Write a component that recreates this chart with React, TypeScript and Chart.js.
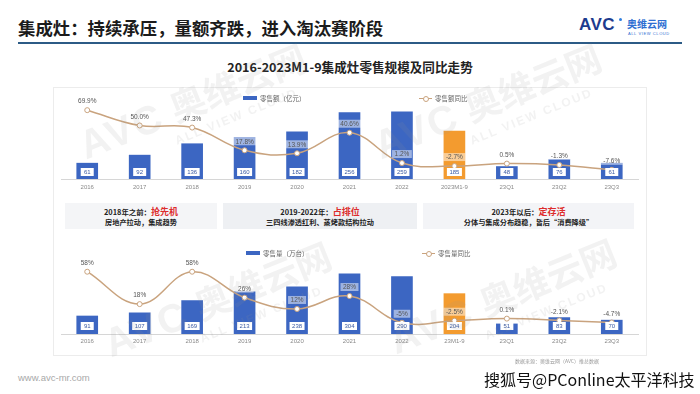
import React, { useEffect, useRef } from "react";
import { Chart, registerables } from "chart.js";

Chart.register(...registerables);

// ---------- DATA ----------
const categoriesTop = ["2016", "2017", "2018", "2019", "2020", "2021", "2022", "2023M1-9", "23Q1", "23Q2", "23Q3"];
const categoriesBottom = ["2016", "2017", "2018", "2019", "2020", "2021", "2022", "23M1-9", "23Q1", "23Q2", "23Q3"];
const retailValue = [61, 92, 136, 160, 182, 256, 259, 185, 48, 76, 61]; // 亿元
const retailValueYoY = [69.9, 50.0, 47.3, 17.8, 13.9, 40.6, 1.2, -2.7, 0.5, -1.3, -7.6]; // %
const retailVolume = [91, 107, 169, 213, 238, 304, 290, 204, 51, 83, 70]; // 万台
const retailVolumeYoY = [58, 18, 58, 26, 12, 28, -5, -2.5, 0.1, -2.1, -4.7]; // %
const highlightIndex = 7;

const BLUE = "#3c66c2";
const ORANGE = "#f39b2f";
const LINE = "#c9a37e";
const FONT = "'Liberation Sans', 'Noto Sans CJK SC', sans-serif";
const CJK = "'Noto Sans CJK SC', 'Liberation Sans', sans-serif";

const labelPlugin = {
  id: "valueLabels",
  afterDatasetsDraw(chart: any, _args: any, opts: any) {
    const ctx = chart.ctx;
    ctx.save();
    chart.data.datasets.forEach((ds: any, di: number) => {
      const meta = chart.getDatasetMeta(di);
      if (meta.type === "bar") {
        meta.data.forEach((el: any, i: number) => {
          const txt = String(ds.data[i]);
          ctx.font = `6px ${FONT}`;
          const w = Math.max(13, ctx.measureText(txt).width + 5);
          const h = 8;
          const x = el.x;
          const y = el.base - opts.valueOffset;
          ctx.fillStyle = "#ffffff";
          ctx.fillRect(x - w / 2, y - h / 2, w, h);
          ctx.fillStyle = "#3a5aa3";
          ctx.textAlign = "center";
          ctx.textBaseline = "middle";
          ctx.fillText(txt, x, y + 0.5);
        });
      } else if (meta.type === "line") {
        meta.data.forEach((el: any, i: number) => {
          const v = ds.data[i];
          const txt = (opts.decimals >= 0 ? v.toFixed(opts.decimals) : String(v)) + "%";
          ctx.font = `6.5px ${FONT}`;
          const w = ctx.measureText(txt).width + 5;
          const h = 8;
          const x = el.x;
          const y = el.y - opts.pctOffset;
          ctx.fillStyle = "rgba(255,255,255,0.5)";
          ctx.fillRect(x - w / 2, y - h / 2, w, h);
          ctx.fillStyle = "#555";
          ctx.textAlign = "center";
          ctx.textBaseline = "middle";
          ctx.fillText(txt, x, y + 0.5);
        });
      }
    });
    ctx.restore();
  },
};

function makeConfig(
  labels: string[],
  bars: number[],
  pct: number[],
  barMax: number,
  pctMin: number,
  pctMax: number,
  padTop: number,
  padBottom: number,
  tickPad: number,
  decimals: number,
  valueOffset: number
) {
  return {
    type: "bar",
    data: {
      labels,
      datasets: [
        {
          type: "line",
          data: pct,
          yAxisID: "y1",
          order: 0,
          borderColor: LINE,
          borderWidth: 1.5,
          tension: 0.4,
          fill: false,
          pointRadius: 2.5,
          pointBackgroundColor: "#ffffff",
          pointBorderColor: LINE,
          pointBorderWidth: 1,
        },
        {
          type: "bar",
          data: bars,
          yAxisID: "y",
          order: 1,
          backgroundColor: bars.map((_, i) => (i === highlightIndex ? ORANGE : BLUE)),
          barThickness: 21,
        },
      ],
    },
    options: {
      responsive: false,
      animation: false,
      events: [],
      layout: { padding: { left: 8, right: 9, top: padTop, bottom: padBottom } },
      plugins: {
        legend: { display: false },
        tooltip: { enabled: false },
        valueLabels: { decimals, valueOffset, pctOffset: 9 },
      },
      scales: {
        x: {
          grid: { display: false, drawTicks: false, tickLength: 0 },
          border: { display: true, color: "#d6d6d6" },
          ticks: {
            padding: tickPad,
            color: "#8a8a8a",
            font: { size: 6, family: FONT },
            maxRotation: 0,
            autoSkip: false,
          },
          afterFit: (s: any) => {
            s.height = 14;
          },
        },
        y: { display: false, min: 0, max: barMax },
        y1: { display: false, min: pctMin, max: pctMax },
      },
    },
    plugins: [labelPlugin],
  } as any;
}

function ChartCanvas({ config, left, top, width, height }: any) {
  const ref = useRef<HTMLCanvasElement | null>(null);
  useEffect(() => {
    const c = new Chart(ref.current as HTMLCanvasElement, config);
    return () => c.destroy();
  }, []);
  return (
    <canvas
      ref={ref}
      width={width}
      height={height}
      style={{ position: "absolute", left, top, width, height }}
    />
  );
}

function BarLegend({ left, top, text }: any) {
  return (
    <div style={{ position: "absolute", left, top, display: "flex", alignItems: "center", fontFamily: CJK, fontSize: 6.5, color: "#666", whiteSpace: "nowrap" }}>
      <div style={{ width: 14, height: 4, background: BLUE, marginRight: 3 }} />
      <span>{text}</span>
    </div>
  );
}

function LineLegend({ left, top, text }: any) {
  return (
    <div style={{ position: "absolute", left, top, display: "flex", alignItems: "center", fontFamily: CJK, fontSize: 6.5, color: "#666", whiteSpace: "nowrap" }}>
      <div style={{ position: "relative", width: 13, height: 6, marginRight: 3 }}>
        <div style={{ position: "absolute", left: 0, top: 2.5, width: 13, height: 1.2, background: LINE }} />
        <div style={{ position: "absolute", left: 4, top: 0.5, width: 4, height: 4, borderRadius: 3, border: `1px solid ${LINE}`, background: "#fff" }} />
      </div>
      <span>{text}</span>
    </div>
  );
}

function InfoBox({ left, width, bg, lead, red, sub }: any) {
  return (
    <div style={{ position: "absolute", left, top: 203, width, height: 26, background: bg, fontFamily: CJK, fontWeight: 700, color: "#222", textAlign: "center" }}>
      <div style={{ position: "absolute", left: 0, right: 0, top: 3, fontSize: 7.4, lineHeight: "11px", whiteSpace: "nowrap" }}>
        {lead}
        <span style={{ color: "#dd2c2c", fontSize: 9 }}>{red}</span>
      </div>
      <div style={{ position: "absolute", left: 0, right: 0, top: 14, fontSize: 7.2, lineHeight: "10px", whiteSpace: "nowrap" }}>{sub}</div>
    </div>
  );
}

function Watermark({ left, top, angle }: any) {
  return (
    <div style={{ position: "absolute", left, top, transform: `rotate(${angle}deg)`, transformOrigin: "left top", color: "rgba(150,150,150,0.12)", whiteSpace: "nowrap", pointerEvents: "none" }}>
      <div style={{ display: "flex", alignItems: "flex-end" }}>
        <span style={{ fontFamily: FONT, fontWeight: 700, fontSize: 40, letterSpacing: 2 }}>AVC</span>
        <span style={{ fontFamily: CJK, fontWeight: 700, fontSize: 36, marginLeft: 10 }}>奥维云网</span>
      </div>
      <div style={{ fontFamily: FONT, fontWeight: 700, fontSize: 12, letterSpacing: 2, marginLeft: 90 }}>ALL VIEW CLOUD</div>
    </div>
  );
}

export default function App() {
  const topConfig = makeConfig(categoriesTop, retailValue, retailValueYoY, 293, -19.5, 79.2, 16, 7, 5, 1, 7);
  const bottomConfig = makeConfig(categoriesBottom, retailVolume, retailVolumeYoY, 364, -18.9, 70, 22, 8, 4, -1, 8);

  return (
    <div style={{ position: "fixed", left: 0, top: 0, width: 700, height: 394, background: "#fff", overflow: "hidden" }}>
      {/* header */}
      <div style={{ position: "absolute", left: 18, top: 17, fontFamily: CJK, fontWeight: 700, fontSize: 17.4, color: "#1b1b1b", whiteSpace: "nowrap", lineHeight: "22px" }}>
        集成灶：持续承压，量额齐跌，进入淘汰赛阶段
      </div>
      <div style={{ position: "absolute", left: 18, top: 42, width: 664, height: 2, background: "#2c5b86" }} />
      {/* logo */}
      <div style={{ position: "absolute", left: 579, top: 15, fontFamily: FONT, fontWeight: 700, fontSize: 17, color: "#1d3b8e", letterSpacing: 0.5, lineHeight: "20px" }}>AVC</div>
      <div style={{ position: "absolute", left: 619, top: 18, width: 3, height: 3, borderRadius: 2, background: "#2f7fe0" }} />
      <div style={{ position: "absolute", left: 627, top: 17, fontFamily: CJK, fontWeight: 700, fontSize: 10, color: "#2f6fd2", lineHeight: "13px", letterSpacing: 0 }}>奥维云网</div>
      <div style={{ position: "absolute", left: 628, top: 31, fontFamily: FONT, fontSize: 4, color: "#2f6fd2", lineHeight: "5px", letterSpacing: 0.6 }}>ALL VIEW CLOUD</div>

      {/* chart title */}
      <div style={{ position: "absolute", left: 0, width: 700, top: 59, textAlign: "center", fontFamily: CJK, fontWeight: 700, fontSize: 12.6, color: "#222", lineHeight: "16px" }}>
        2016-2023M1-9集成灶零售规模及同比走势
      </div>

      {/* frame */}
      <div style={{ position: "absolute", left: 53, top: 87, width: 594, height: 269, border: "1px solid #ececec", boxSizing: "border-box" }} />

      {/* top chart */}
      <ChartCanvas config={topConfig} left={53} top={87} width={594} height={113} />
      <BarLegend left={243} top={93} text="零售额（亿元）" />
      <LineLegend left={419} top={93} text="零售额同比" />

      {/* info boxes */}
      <InfoBox left={65} width={152} bg="#f4f5f7" lead="2018年之前：" red="抢先机" sub="房地产拉动，集成趋势" />
      <InfoBox left={223} width={194} bg="#eef0f3" lead="2019-2022年：" red="占排位" sub="三四线渗透红利、蒸烤款结构拉动" />
      <InfoBox left={423} width={211} bg="#f3f4f7" lead="2023年以后：" red="定存活" sub="分体与集成分布趋稳，皆后“消费降级”" />

      {/* bottom chart */}
      <ChartCanvas config={bottomConfig} left={53} top={240} width={594} height={116} />
      <BarLegend left={246} top={248} text="零售量（万台）" />
      <LineLegend left={422} top={248} text="零售量同比" />

      {/* watermarks */}
      <Watermark left={70} top={120} angle={-22} />
      <Watermark left={365} top={120} angle={-22} />
      <Watermark left={95} top={318} angle={-22} />
      <Watermark left={380} top={315} angle={-22} />

      {/* footer */}
      <div style={{ position: "absolute", left: 18, top: 372, fontFamily: FONT, fontSize: 9.5, color: "#a9a9a9", lineHeight: "12px" }}>www.avc-mr.com</div>
      <div style={{ position: "absolute", left: 515, top: 358, fontFamily: CJK, fontSize: 5, color: "#999", lineHeight: "6px", whiteSpace: "nowrap" }}>数据来源：奥维云网（AVC）推总数据</div>
      <div
        style={{
          position: "absolute",
          left: 484,
          top: 369,
          fontFamily: CJK,
          fontSize: 16,
          color: "#111",
          lineHeight: "20px",
          whiteSpace: "nowrap",
          textShadow: "1px 0 0 #fff, -1px 0 0 #fff, 0 1px 0 #fff, 0 -1px 0 #fff",
        }}
      >
        搜狐号@PConline太平洋科技
      </div>
    </div>
  );
}
